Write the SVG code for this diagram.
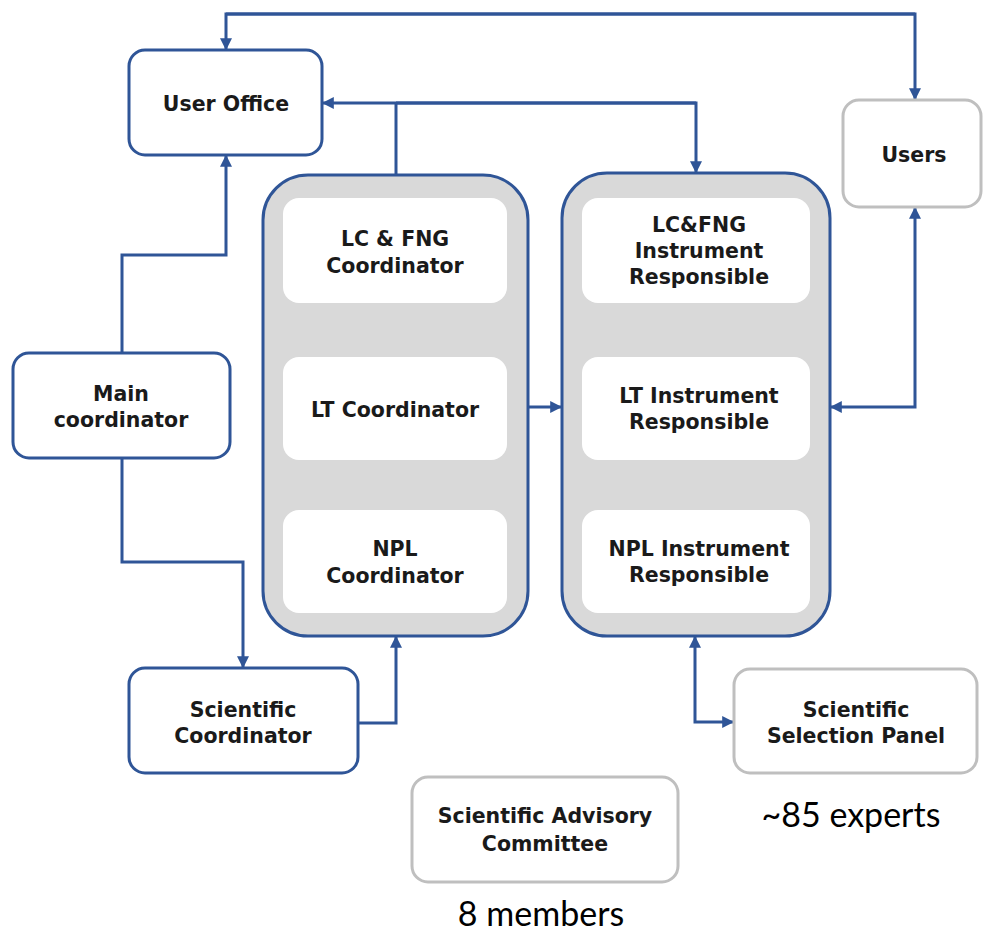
<svg xmlns="http://www.w3.org/2000/svg" width="983" height="937" viewBox="0 0 983 937">
<defs>
<style>
.bn{fill:#fff;stroke:#2f5597;stroke-width:3}
.gn{fill:#fff;stroke:#bfbfbf;stroke-width:3}
.ct{fill:#d9d9d9;stroke:#2f5597;stroke-width:3}
.in{fill:#fff;stroke:none}
.t{font-family:"DejaVu Sans",Verdana,sans-serif;font-weight:bold;font-size:20.5px;fill:#1a1a1a;text-anchor:middle}
.n{font-family:Lato,"Open Sans",sans-serif;font-size:34px;fill:#000;text-anchor:middle}
.c{fill:none;stroke:#2f5597;stroke-width:3}
</style>
<marker id="ah" viewBox="0 0 10 10" refX="9" refY="5" markerWidth="4" markerHeight="4" orient="auto-start-reverse" markerUnits="strokeWidth">
<path d="M0,0 L10,5 L0,10 z" fill="#2f5597"/>
</marker>
</defs>
<rect width="983" height="937" fill="#fff"/>
<g id="connectors">
<path class="c" d="M915,14 H226 V49" marker-end="url(#ah)"/>
<path class="c" d="M226,14 H915 V99" marker-end="url(#ah)"/>
<path class="c" d="M696,103 H323" marker-end="url(#ah)"/>
<path class="c" d="M396,103 H696 V172" marker-end="url(#ah)"/>
<path class="c" d="M396,103 V175"/>
<path class="c" d="M122,353 V255 H226 V156" marker-end="url(#ah)"/>
<path class="c" d="M122,458 V562 H243 V667" marker-end="url(#ah)"/>
<path class="c" d="M358,723 H396 V637" marker-end="url(#ah)"/>
<path class="c" d="M528,407 H561" marker-end="url(#ah)"/>
<path class="c" d="M915,208 V407 H831" marker-start="url(#ah)" marker-end="url(#ah)"/>
<path class="c" d="M695,637 V722 H733" marker-start="url(#ah)" marker-end="url(#ah)"/>
</g>
<g id="user-office">
<rect class="bn" x="129" y="50" width="193" height="105" rx="16"/>
<text class="t" x="226" y="111">User Office</text>
</g>
<g id="users">
<rect class="gn" x="843" y="100" width="138" height="107" rx="16"/>
<text class="t" x="914" y="162">Users</text>
</g>
<g id="main-coordinator">
<rect class="bn" x="13" y="353" width="217" height="105" rx="16"/>
<text class="t" x="121" y="401">Main</text>
<text class="t" x="121" y="427">coordinator</text>
</g>
<g id="coordinators">
<rect class="ct" x="263" y="175" width="265" height="461" rx="45"/>
<g id="lcfng-coordinator">
<rect class="in" x="283" y="198" width="224" height="105" rx="16"/>
<text class="t" x="395" y="246">LC &amp; FNG</text>
<text class="t" x="395" y="273">Coordinator</text>
</g>
<g id="lt-coordinator">
<rect class="in" x="283" y="357" width="224" height="103" rx="16"/>
<text class="t" x="395" y="417">LT Coordinator</text>
</g>
<g id="npl-coordinator">
<rect class="in" x="283" y="510" width="224" height="103" rx="16"/>
<text class="t" x="395" y="556">NPL</text>
<text class="t" x="395" y="583">Coordinator</text>
</g>
</g>
<g id="instruments">
<rect class="ct" x="562" y="173" width="268" height="463" rx="45"/>
<g id="lcfng-instrument">
<rect class="in" x="582" y="198" width="228" height="105" rx="16"/>
<text class="t" x="699" y="232">LC&amp;FNG</text>
<text class="t" x="699" y="258">Instrument</text>
<text class="t" x="699" y="284">Responsible</text>
</g>
<g id="lt-instrument">
<rect class="in" x="582" y="357" width="228" height="103" rx="16"/>
<text class="t" x="699" y="403">LT Instrument</text>
<text class="t" x="699" y="429">Responsible</text>
</g>
<g id="npl-instrument">
<rect class="in" x="582" y="510" width="228" height="103" rx="16"/>
<text class="t" x="699" y="556">NPL Instrument</text>
<text class="t" x="699" y="582">Responsible</text>
</g>
</g>
<g id="scientific-coordinator">
<rect class="bn" x="129" y="668" width="229" height="105" rx="16"/>
<text class="t" x="243" y="717">Scientific</text>
<text class="t" x="243" y="743">Coordinator</text>
</g>
<g id="scientific-selection-panel">
<rect class="gn" x="734" y="669" width="243" height="104" rx="16"/>
<text class="t" x="856" y="717">Scientific</text>
<text class="t" x="856" y="743">Selection Panel</text>
</g>
<g id="scientific-advisory-committee">
<rect class="gn" x="412" y="777" width="266" height="105" rx="16"/>
<text class="t" x="545" y="823">Scientific Advisory</text>
<text class="t" x="545" y="851">Committee</text>
</g>
<text class="n" x="851" y="827">~85 experts</text>
<text class="n" x="541" y="926">8 members</text>
</svg>
